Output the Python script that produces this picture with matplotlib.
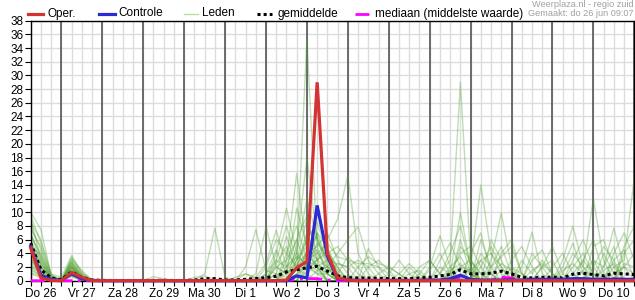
import numpy as np
import matplotlib
matplotlib.use("Agg")
import matplotlib.pyplot as plt
from matplotlib.lines import Line2D

plt.rcParams['font.family'] = ['Liberation Sans', 'DejaVu Sans']

# 6-hourly steps, index 0 = Do 26 06:00
n_steps = 60
day_labels = ["Do 26", "Vr 27", "Za 28", "Zo 29", "Ma 30", "Di 1", "Wo 2", "Do 3",
              "Vr 4", "Za 5", "Zo 6", "Ma 7", "Di 8", "Wo 9", "Do 10"]

oper = [4.8, 0.4, 0.05, 0, 1.2, 0.5, 0, 0, 0, 0, 0, 0, 0, 0, 0, 0, 0, 0, 0, 0,
        0, 0, 0, 0, 0, 0.1, 1.9, 2.8, 29.0, 4.0, 0.4, 0.1, 0, 0, 0, 0, 0, 0, 0, 0,
        0, 0, 0, 0, 0, 0, 0, 0, 0, 0, 0, 0, 0, 0, 0, 0, 0, 0, 0, 0]
controle = [5.0, 0.8, 0.2, 0.05, 1.0, 0.3, 0.05, 0, 0, 0, 0, 0, 0, 0, 0, 0, 0, 0, 0, 0,
            0, 0, 0, 0, 0, 0, 0.7, 0.4, 11.0, 3.6, 0.3, 0.1, 0.05, 0.05, 0.05, 0.05, 0.05, 0.05, 0.05, 0.1,
            0.1, 0.3, 0.8, 0.2, 0.1, 0.1, 0.1, 0.1, 0.1, 0.2, 0.2, 0.2, 0.2, 0.3, 0.3, 0.2, 0.2, 0.2, 0.2, 0.2]
gemiddelde = [5.5, 1.6, 0.4, 0.15, 1.3, 0.5, 0.1, 0.05, 0.03, 0.03, 0.03, 0.03, 0.05, 0.05, 0.03, 0.03, 0.1, 0.3, 0.3, 0.1,
              0.1, 0.2, 0.3, 0.45, 0.65, 1.3, 1.6, 1.9, 2.1, 1.4, 0.7, 0.45, 0.4, 0.4, 0.35, 0.3, 0.3, 0.3, 0.4, 0.5,
              0.7, 0.9, 1.6, 1.0, 1.0, 1.1, 1.4, 1.0, 0.5, 0.4, 0.5, 0.5, 0.4, 0.95, 1.1, 0.9, 0.7, 1.1, 1.0, 0.9]
mediaan = [0, 0, 0, 0, 0, 0, 0, 0, 0, 0, 0, 0, 0, 0, 0, 0, 0, 0, 0, 0,
           0, 0, 0, 0, 0, 0, 0.2, 0.3, 0.3, 0.1, 0, 0, 0, 0, 0, 0, 0, 0, 0, 0,
           0, 0.1, 0.5, 0.1, 0, 0.1, 0.5, 0.4, 0, 0, 0, 0, 0, 0, 0, 0.1, 0.4, 0.3, 0.2, 0.1]

# ensemble members: nonzero 6-hourly values, everything else 0
leden = [
    {0: 10.0, 1: 7.5, 2: 0.8, 3: 0.2, 4: 2.0, 5: 0.6, 22: 0.5, 23: 2.5, 24: 7.4, 25: 2.0, 26: 3.5, 27: 35.4, 28: 5.0, 29: 1.0,
     40: 1.0, 41: 3.0, 42: 29.0, 43: 3.0, 44: 1.0, 54: 1.5, 55: 3.0, 56: 0.5},
    {0: 8.5, 1: 6.0, 2: 1.0, 3: 0.5, 4: 3.7, 5: 1.2, 6: 0.2, 17: 1.0, 18: 7.7, 19: 0.5, 25: 3.0, 26: 15.7, 27: 4.0, 28: 2.0,
     43: 2.0, 44: 14.0, 45: 4.0, 46: 1.0, 57: 2.0, 58: 3.0, 59: 15.0},
    {0: 7.5, 1: 5.0, 2: 0.6, 4: 3.2, 5: 1.5, 21: 2.0, 22: 7.5, 23: 1.5, 24: 1.0, 26: 5.0, 27: 17.9, 28: 6.0, 29: 2.0,
     39: 2.0, 40: 6.6, 41: 2.0, 52: 1.0, 53: 4.0, 54: 2.0, 55: 12.0, 56: 3.0},
    {0: 6.5, 1: 4.0, 2: 0.4, 4: 2.8, 5: 0.8, 24: 4.0, 25: 10.6, 26: 4.0, 27: 2.0, 28: 3.0, 29: 6.0, 30: 9.0, 31: 15.4, 32: 4.0,
     33: 1.0, 45: 3.0, 46: 9.9, 47: 2.0, 52: 3.0, 53: 8.0, 54: 2.0},
    {0: 5.5, 1: 3.2, 2: 0.3, 4: 2.4, 5: 0.6, 22: 1.0, 23: 7.9, 24: 2.0, 25: 1.0, 26: 10.6, 27: 5.0, 28: 3.0, 29: 2.0, 30: 4.0,
     31: 6.0, 32: 7.9, 33: 3.0, 34: 1.0, 48: 2.0, 49: 7.1, 50: 1.0, 56: 2.0, 57: 7.7, 58: 2.0},
    {0: 9.0, 1: 3.0, 2: 0.5, 4: 2.2, 5: 0.4, 23: 2.0, 24: 6.0, 25: 4.0, 26: 8.0, 27: 3.0, 28: 7.0, 29: 3.0, 33: 4.7, 34: 2.0,
     41: 1.0, 42: 10.0, 43: 2.0, 50: 2.0, 51: 5.0, 52: 1.0},
    {0: 4.5, 1: 2.5, 2: 0.2, 4: 1.8, 5: 0.3, 24: 1.0, 25: 6.5, 26: 2.0, 27: 4.0, 28: 5.0, 29: 7.0, 30: 3.0, 31: 1.0,
     38: 1.0, 39: 3.0, 40: 1.0, 41: 4.0, 42: 8.0, 43: 2.0, 53: 3.0, 54: 6.0, 55: 2.0},
    {0: 3.8, 1: 1.8, 2: 0.3, 4: 1.6, 5: 0.5, 26: 2.0, 27: 6.0, 28: 8.5, 29: 4.0, 30: 2.0, 35: 1.0, 36: 3.0, 37: 1.0,
     44: 6.0, 45: 2.0, 46: 5.0, 47: 1.0, 57: 4.0, 58: 7.0, 59: 3.0},
    {0: 3.0, 1: 1.5, 2: 0.2, 4: 1.5, 5: 0.2, 23: 1.0, 24: 3.0, 25: 2.0, 26: 4.0, 27: 12.0, 28: 6.0, 29: 3.0, 30: 2.5, 31: 2.0,
     32: 3.0, 33: 2.0, 42: 5.0, 43: 3.0, 44: 1.0, 49: 3.0, 50: 4.5, 51: 1.0},
    {0: 2.5, 1: 1.2, 2: 0.1, 4: 1.4, 5: 0.3, 27: 3.0, 28: 4.0, 29: 5.5, 30: 3.5, 31: 3.0, 32: 2.5, 33: 2.5, 34: 2.0, 35: 1.0,
     45: 6.0, 46: 3.0, 55: 5.0, 56: 6.0, 57: 2.0},
    {0: 2.0, 1: 1.0, 2: 0.1, 4: 1.2, 5: 0.2, 25: 2.0, 26: 6.0, 27: 2.0, 28: 1.0, 29: 1.0, 30: 2.5, 31: 2.0,
     40: 3.0, 41: 5.5, 42: 2.0, 51: 2.0, 52: 4.0, 53: 1.0, 58: 5.0, 59: 8.0},
    {0: 1.5, 1: 0.8, 2: 0.1, 4: 1.0, 5: 0.2, 12: 0.6, 13: 0.3, 24: 2.0, 25: 1.0, 26: 3.0, 27: 9.0, 28: 4.0, 29: 2.0,
     33: 2.0, 34: 3.0, 35: 1.5, 46: 4.0, 47: 6.0, 48: 1.0, 54: 3.0, 55: 1.0},
    {0: 1.0, 1: 0.5, 2: 0.1, 4: 0.8, 5: 0.1, 21: 1.0, 22: 0.5, 26: 1.0, 27: 2.0, 28: 7.0, 29: 5.0, 30: 1.0,
     37: 2.0, 38: 0.5, 43: 4.0, 44: 7.0, 45: 1.0, 56: 4.0, 57: 1.0},
    {0: 7.0, 1: 2.5, 2: 0.4, 4: 2.6, 5: 0.7, 16: 0.5, 17: 0.7, 18: 0.2, 25: 4.0, 26: 2.0, 27: 7.0, 28: 3.0, 29: 4.5, 30: 2.0,
     41: 2.0, 42: 3.5, 43: 1.0, 47: 3.0, 48: 5.0, 49: 2.0, 58: 4.0, 59: 6.0},
    {0: 6.0, 1: 2.0, 2: 0.5, 4: 2.1, 5: 0.5, 24: 2.5, 25: 5.0, 26: 1.5, 27: 3.0, 28: 2.0, 30: 1.0, 31: 3.5, 32: 2.0,
     44: 3.0, 45: 4.0, 46: 2.0, 52: 2.0, 53: 5.5, 54: 1.0},
    {0: 5.0, 1: 3.8, 2: 0.7, 4: 1.9, 5: 0.4, 26: 3.0, 27: 5.0, 28: 6.5, 29: 2.5, 39: 1.5, 40: 4.0, 41: 1.0,
     48: 3.0, 49: 1.0, 50: 3.0, 51: 1.0, 55: 3.0, 56: 2.0, 57: 5.0},
    {0: 4.0, 1: 2.0, 2: 0.2, 4: 1.7, 5: 0.3, 23: 1.0, 24: 4.5, 25: 1.0, 26: 2.0, 27: 3.5, 28: 4.5, 29: 1.0,
     36: 1.0, 37: 2.5, 38: 1.0, 42: 6.0, 43: 1.0, 53: 2.0, 54: 4.0, 55: 1.0},
    {0: 3.5, 1: 1.0, 2: 0.2, 4: 1.3, 5: 0.2, 27: 1.5, 28: 3.0, 29: 4.0, 30: 5.0, 31: 3.0, 32: 1.0,
     45: 2.0, 46: 3.5, 47: 5.0, 48: 1.0, 57: 3.0, 58: 4.5},
    {0: 2.8, 1: 1.4, 2: 0.1, 4: 1.1, 5: 0.2, 25: 1.0, 26: 2.5, 27: 4.0, 28: 2.0, 29: 3.0, 30: 1.0,
     40: 2.0, 41: 1.0, 42: 4.0, 43: 5.0, 44: 2.0, 50: 2.0, 51: 3.0},
    {0: 8.0, 1: 4.5, 2: 0.6, 4: 3.4, 5: 1.0, 20: 0.5, 21: 1.0, 22: 0.3, 24: 3.0, 25: 8.0, 26: 3.0, 27: 6.0, 28: 2.0,
     32: 2.0, 33: 3.5, 34: 2.5, 35: 2.0, 36: 1.0, 44: 4.0, 45: 2.0, 55: 2.0, 56: 5.0, 57: 3.0},
    {0: 1.2, 1: 0.6, 2: 0.1, 4: 0.7, 26: 0.5, 27: 1.0, 28: 2.5, 29: 1.0, 41: 1.5, 42: 2.5, 43: 1.0, 58: 2.0, 59: 4.0},
    {0: 9.5, 1: 5.5, 2: 0.9, 4: 3.0, 5: 1.0, 24: 2.0, 25: 3.0, 26: 6.0, 27: 9.5, 28: 3.0, 42: 2.0, 43: 3.0, 49: 4.0, 50: 2.0},
    {0: 4.8, 1: 2.8, 2: 0.3, 4: 2.3, 5: 0.5, 27: 2.0, 28: 5.5, 29: 3.5, 30: 1.5, 34: 1.0, 35: 2.0, 36: 1.0,
     44: 2.0, 45: 5.0, 46: 2.0, 53: 1.0, 54: 3.0, 55: 6.0, 56: 1.0},
    {0: 2.2, 1: 1.1, 2: 0.1, 4: 0.9, 5: 0.1, 25: 1.5, 26: 3.5, 27: 2.5, 28: 1.0, 38: 2.0, 39: 3.0, 40: 1.0,
     47: 2.0, 48: 1.0, 58: 2.5, 59: 2.0},
    {0: 3.3, 1: 0.9, 4: 1.0, 28: 1.5, 29: 2.0, 30: 1.0, 43: 1.5, 44: 3.0, 45: 1.0, 56: 1.5, 57: 2.5},
    {0: 1.8, 1: 0.7, 4: 0.6, 24: 1.0, 25: 0.5, 26: 1.5, 27: 1.0, 46: 1.5, 47: 1.0, 52: 1.5, 53: 2.5, 54: 1.0},
    {0: 6.8, 1: 3.5, 2: 0.4, 4: 2.7, 5: 0.6, 27: 4.5, 28: 2.0, 29: 1.0, 41: 1.0, 42: 2.0, 43: 1.5, 49: 1.5, 50: 2.5, 51: 1.0},
    {0: 5.2, 1: 2.2, 2: 0.3, 4: 2.0, 5: 0.4, 26: 1.0, 27: 2.5, 28: 1.5, 37: 1.0, 38: 1.5, 45: 1.0, 46: 2.5, 47: 1.5,
     57: 1.0, 58: 2.0, 59: 1.0},
]

W, H = 635, 300
fig = plt.figure(figsize=(W / 100, H / 100), dpi=100)
ax = fig.add_axes([30.7 / W, 1 - 280.7 / H, (634.3 - 30.7) / W, (280.7 - 20.7) / H])

x = np.arange(n_steps)

for m in leden:
    vals = np.zeros(n_steps)
    for k, v in m.items():
        vals[k] = v
    ax.plot(x, vals, color='#4ca02c', alpha=0.35, lw=1.0, zorder=2)

ax.plot(x, mediaan, color='#ff00ff', lw=2.0, dashes=(5, 2, 1, 2), zorder=3, clip_on=False)
ax.plot(x, gemiddelde, color='black', lw=2.2, linestyle=(0, (1, 1)), zorder=4, clip_on=False)
ax.plot(x, controle, color='#2b2bd4', lw=2.3, zorder=5, clip_on=False, solid_joinstyle='miter')
ax.plot(x, oper, color='#d33333', lw=2.3, zorder=6, clip_on=False, solid_joinstyle='miter')

ax.set_xlim(0, n_steps - 1)
ax.set_ylim(0, 38)

# grid: light every 6h / every 2 mm, dark at midnight
ax.set_axisbelow(True)
ax.set_yticks(np.arange(0, 39, 2))
ax.set_xticks(x)
lbls = [''] * n_steps
for i, d in enumerate(day_labels):
    lbls[1 + 4 * i] = d
ax.set_xticklabels(lbls)
ax.grid(True, color='#dcdcdc', lw=1.0, zorder=0)
for d in range(3, n_steps, 4):
    ax.axvline(d, color='#555555', lw=1.2, zorder=1)

ax.tick_params(axis='y', length=4.3, width=0.8, pad=1, labelsize=8.5)
ax.tick_params(axis='x', length=3.6, width=0.8, pad=1.5, labelsize=8.5)
for s in ax.spines.values():
    s.set_color('black')
    s.set_linewidth(1.0)

# legend row on top
def fx(px):
    return px / W

def fy(py):
    return 1 - py / H

ly = 13.5
entries = [
    (28, 43, 47.5, 'Oper.', dict(color='#d33333', lw=2.3)),
    (99, 115, 118, 'Controle', dict(color='#2b2bd4', lw=2.3)),
    (184, 198, 202, 'Leden', dict(color='#b9dca5', lw=1.0)),
    (257, 272, 277, 'gemiddelde', dict(color='black', lw=2.2, linestyle=(0, (1, 1)))),
    (355, 372, 375, 'mediaan (middelste waarde)', dict(color='#ff00ff', lw=2.0, dashes=(5, 2, 1, 2))),
]
for x0, x1, tx, label, style in entries:
    fig.add_artist(Line2D([fx(x0), fx(x1)], [fy(ly), fy(ly)], transform=fig.transFigure, **style))
    fig.text(fx(tx), fy(ly), label, fontsize=8.5, va='center', ha='left')

fig.text(fx(634), fy(4.8), 'Weerplaza.nl - regio zuid', fontsize=6.6, color='#a0a0a0', ha='right', va='center')
fig.text(fx(634), fy(13.8), 'Gemaakt: do 26 jun 09:07', fontsize=6.6, color='#a0a0a0', ha='right', va='center')

fig.savefig('out.png', dpi=100)
